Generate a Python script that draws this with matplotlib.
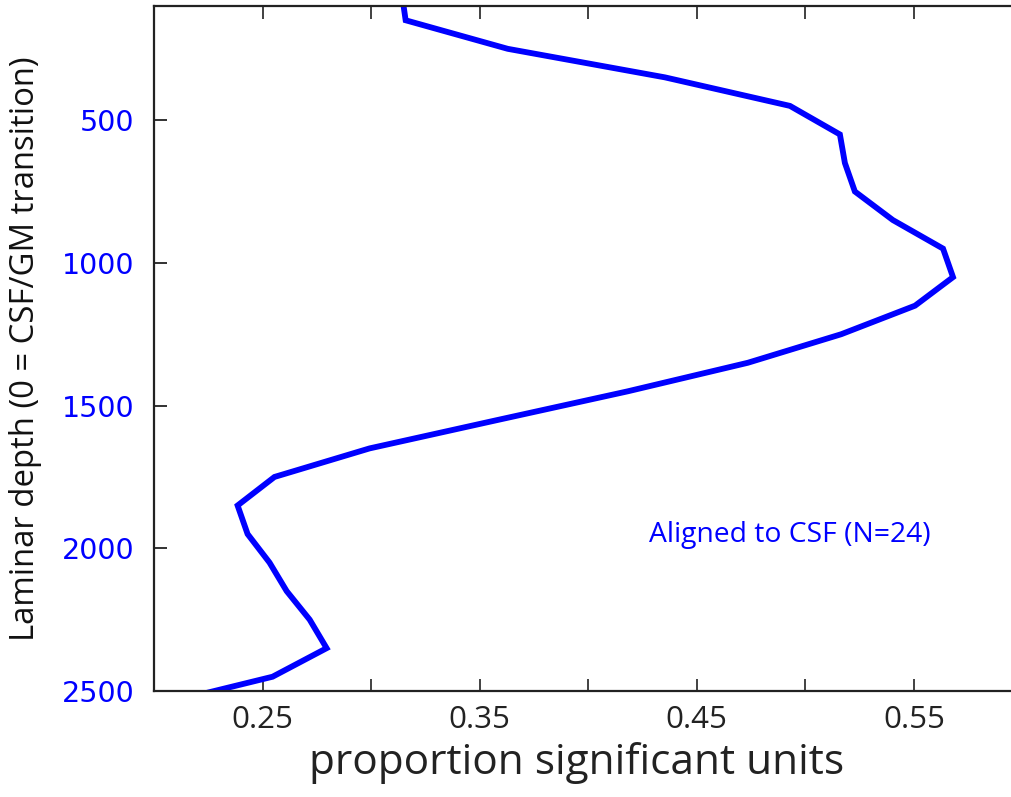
import numpy as np
import matplotlib
matplotlib.use('Agg')
import matplotlib.pyplot as plt

# laminar depth (um, 0 = CSF/GM transition) and proportion of significant units
depth = [50, 150, 250, 350, 450, 550, 650, 750, 850, 950, 1050, 1150, 1250,
         1350, 1450, 1550, 1650, 1750, 1850, 1950, 2050, 2150, 2250, 2350,
         2450, 2550]
prop_sig = [0.314, 0.3159, 0.3629, 0.4353, 0.4929, 0.5159, 0.5182, 0.5228,
            0.5403, 0.5634, 0.5680, 0.5505, 0.5165, 0.4735, 0.4182, 0.3585,
            0.2993, 0.2555, 0.2385, 0.2431, 0.2532, 0.2611, 0.2717, 0.2795,
            0.2546, 0.2010]

xticks = [0.25, 0.30, 0.35, 0.40, 0.45, 0.50, 0.55]
xticklabels = ['0.25', '', '0.35', '', '0.45', '', '0.55']
yticks = [500, 1000, 1500, 2000, 2500]
label_text = 'Aligned to CSF (N=24)'

txt_font = ['Open Sans', 'DejaVu Sans']

fig = plt.figure(figsize=(10.12, 7.97), dpi=100)
ax = fig.add_axes([154 / 1012, 106 / 797, (1022.5 - 154) / 1012, 685 / 797])

ax.plot(prop_sig, depth, color='#0000ff', linewidth=4.2, solid_joinstyle='miter')

ax.set_xlim(0.2, 0.6)
ax.set_ylim(2500, 100)

ax.set_xticks(xticks)
ax.set_xticklabels(xticklabels, fontsize=22.5, family=txt_font, color='#222222')
ax.set_yticks(yticks)
ax.set_yticklabels([str(v) for v in yticks], fontsize=20.5,
                   family='DejaVu Sans', color='#0000ff')

ax.tick_params(axis='x', direction='in', length=9, width=1.3, top=True,
               pad=10, color='#333333')
ax.tick_params(axis='y', direction='in', length=9, width=1.3, right=False,
               pad=14, color='#222222')
for s in ax.spines.values():
    s.set_linewidth(1.6)
    s.set_color('#222222')

ax.set_xlabel('proportion significant units', fontsize=30.5, family=txt_font,
              color='#222222')
ax.xaxis.set_label_coords(0.487, -0.075)
ax.set_ylabel('Laminar depth (0 = CSF/GM transition)', fontsize=23.7,
              family=txt_font, color='#111111', labelpad=14)

ax.text(0.4279, 1953, label_text, fontsize=20.3, family=txt_font,
        color='#0000ff', ha='left', va='center')

fig.savefig('out.png', dpi=100)
